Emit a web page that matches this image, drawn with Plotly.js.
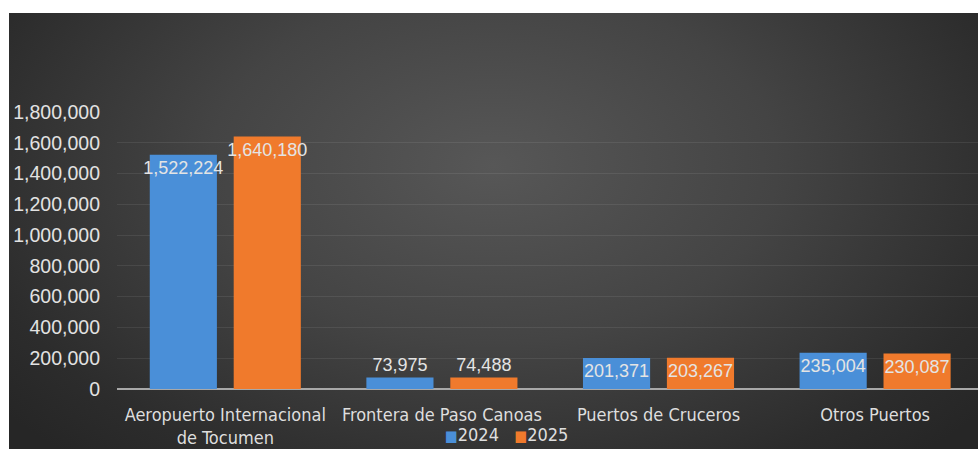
<!DOCTYPE html>
<html>
<head>
<meta charset="utf-8">
<script src="https://cdn.plot.ly/plotly-3.0.1.min.js"></script>
<style>
  html, body { margin: 0; padding: 0; background: #ffffff; width: 978px; height: 449px; overflow: hidden; }
  #bg { position: absolute; left: 9px; top: 13px; width: 969px; height: 436px;
        background: radial-gradient(ellipse 65% 90% at 50% 35%, #575757 0%, #444444 45%, #2c2c2c 85%, #262626 100%); }
  #chart { position: absolute; left: 0; top: 0; width: 978px; height: 449px; }
</style>
</head>
<body>
<div id="bg"></div>
<div id="chart"></div>
<script>
const categories = ["Aeropuerto Internacional<br>de Tocumen", "Frontera de Paso Canoas", "Puertos de Cruceros", "Otros Puertos"];
const values2024 = [1522224, 73975, 201371, 235004];
const values2025 = [1640180, 74488, 203267, 230087];
const labelPositions = ["inside", "outside", "inside", "inside"];
const yTicks = [0, 200000, 400000, 600000, 800000, 1000000, 1200000, 1400000, 1600000, 1800000];
const seriesNames = ["2024", "2025"];
const seriesColors = ["#4a8fd8", "#f07a2c"];

const fmt = v => v.toLocaleString("en-US");
const labelFont = { family: "Liberation Sans, Arial, sans-serif", size: 18, color: "#e4e4e4" };
const narrowFamily = "Liberation Sans Narrow, DejaVu Sans Condensed, Arial Narrow, sans-serif";

function barTrace(name, vals, color) {
  return {
    type: "bar",
    name: name,
    x: categories.map((c, i) => i),
    y: vals,
    text: vals.map(fmt),
    textposition: labelPositions,
    insidetextanchor: "end",
    textangle: 0,
    constraintext: "none",
    cliponaxis: false,
    insidetextfont: labelFont,
    outsidetextfont: labelFont,
    marker: { color: color, line: { width: 0 } },
    hoverinfo: "skip",
    showlegend: false
  };
}

const data = [
  barTrace(seriesNames[0], values2024, seriesColors[0]),
  barTrace(seriesNames[1], values2025, seriesColors[1])
];

const legendText = seriesNames.map((n, i) =>
  "<span style='color:" + seriesColors[i] + ";font-size:15px'>■</span>" + n).join("&nbsp;&nbsp;&nbsp;");

const layout = {
  width: 978,
  height: 449,
  paper_bgcolor: "rgba(0,0,0,0)",
  plot_bgcolor: "rgba(0,0,0,0)",
  margin: { l: 117, r: 0, t: 112, b: 60, pad: 0 },
  barmode: "group",
  bargap: 0.225,
  bargroupgap: 0.2,
  xaxis: {
    type: "linear",
    range: [-0.5, 3.475],
    tickmode: "array",
    tickvals: categories.map((c, i) => i),
    ticktext: categories,
    tickfont: { family: narrowFamily, size: 18, color: "#dedede" },
    ticklabelstandoff: 13,
    showgrid: false,
    zeroline: false,
    showline: false,
    ticks: "",
    fixedrange: true
  },
  yaxis: {
    range: [0, 1800000],
    tickmode: "array",
    tickvals: yTicks,
    ticktext: yTicks.map(fmt),
    tickfont: { family: "Liberation Sans, Arial, sans-serif", size: 19.5, color: "#e2e2e2" },
    ticklabelstandoff: 16,
    showgrid: true,
    gridcolor: "rgba(255,255,255,0.08)",
    gridwidth: 1,
    zeroline: true,
    zerolinecolor: "#a8a8a8",
    zerolinewidth: 2,
    showline: false,
    ticks: "",
    fixedrange: true
  },
  showlegend: false,
  annotations: [{
    xref: "paper", yref: "paper",
    x: 0.452, y: -0.165,
    xanchor: "center", yanchor: "middle",
    showarrow: false,
    text: legendText,
    font: { family: narrowFamily, size: 18, color: "#dedede" }
  }]
};

Plotly.newPlot("chart", data, layout, { displayModeBar: false, staticPlot: true });
</script>
</body>
</html>
